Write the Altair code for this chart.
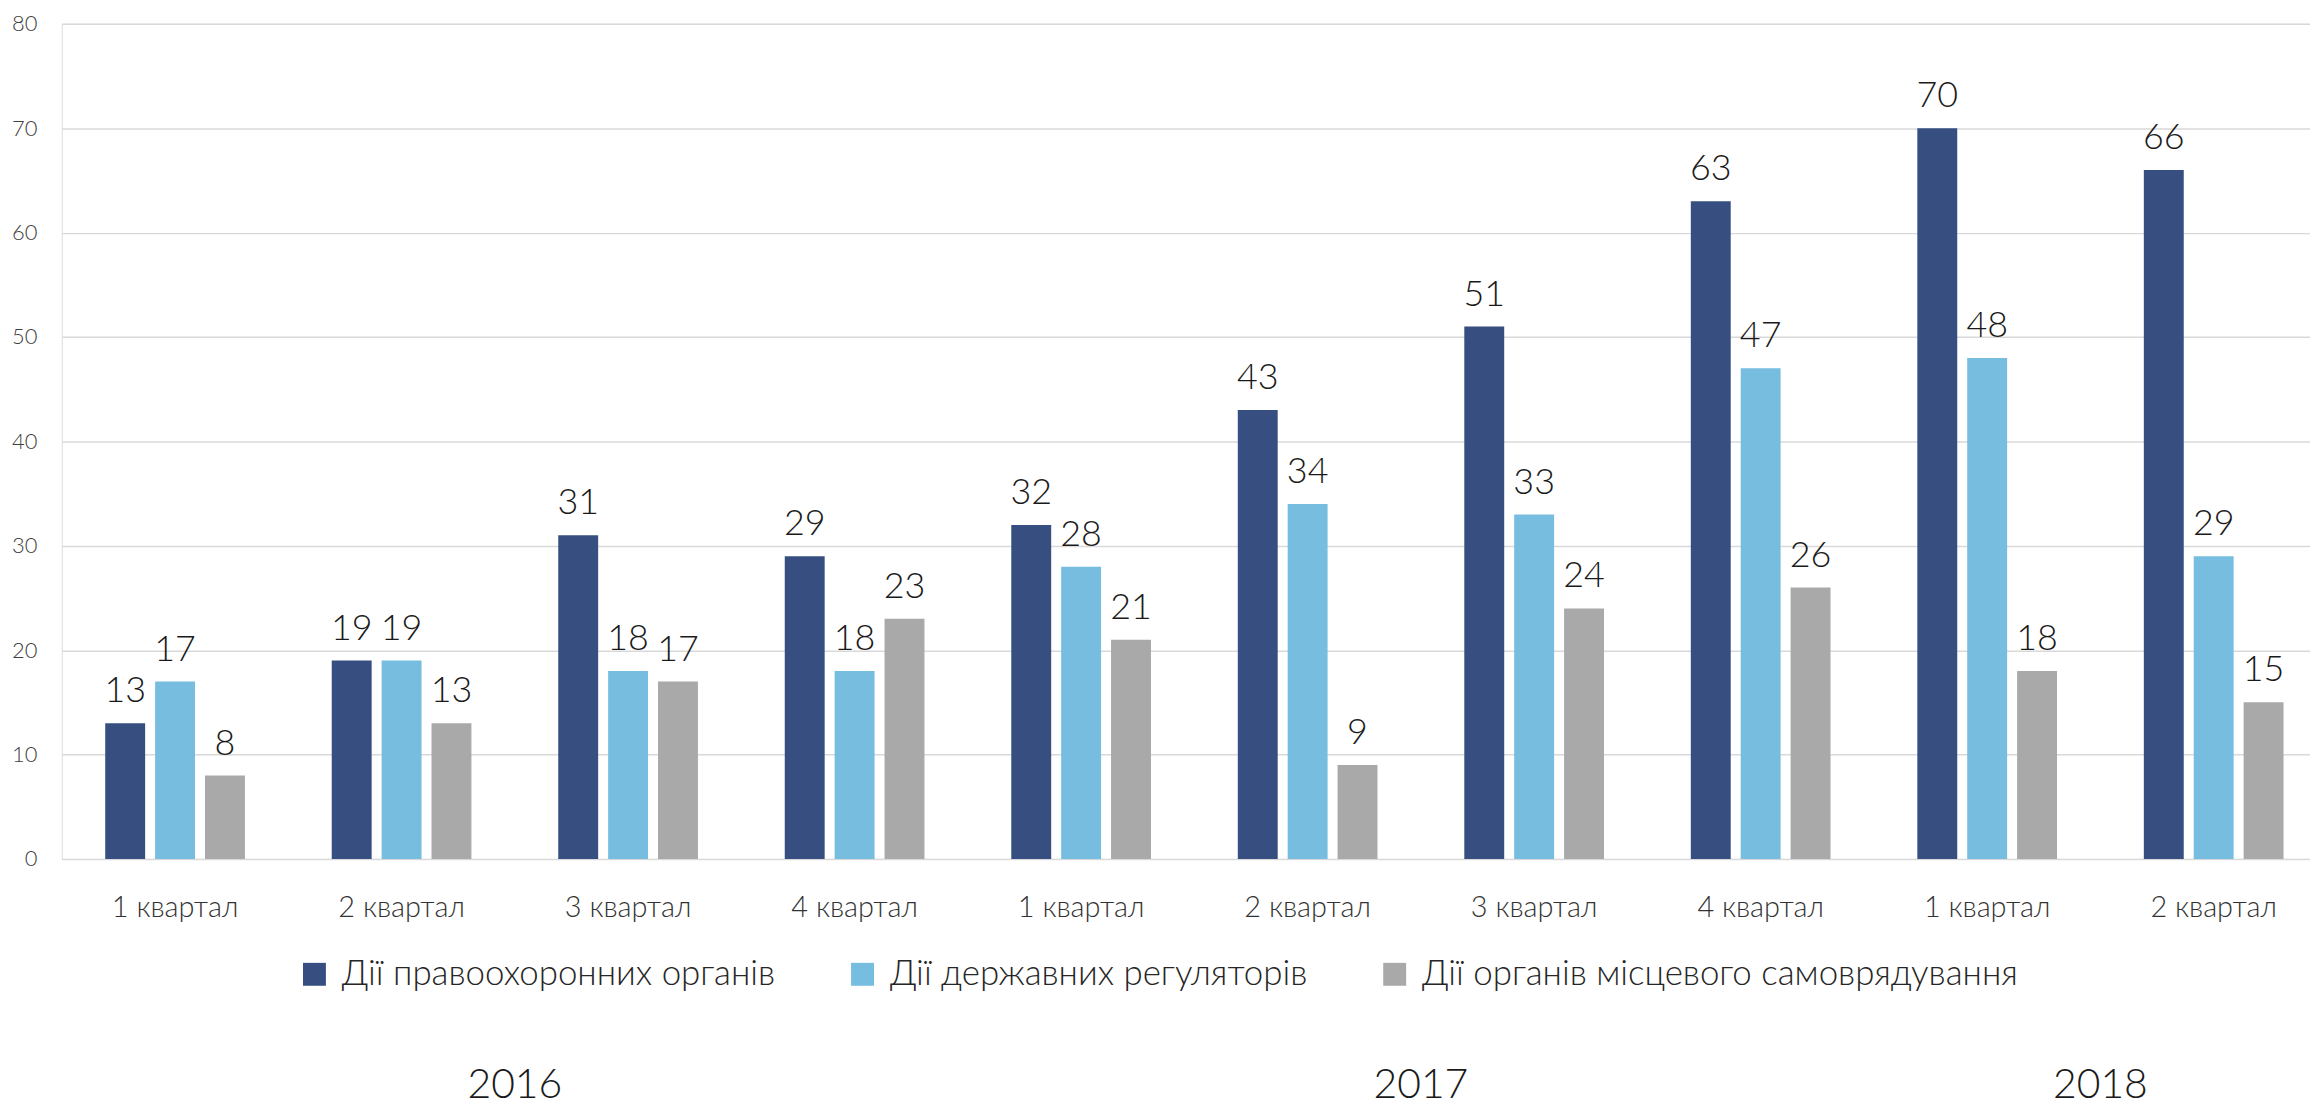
import altair as alt
import pandas as pd

# ---- data ----
quarter_labels = ["1 квартал", "2 квартал", "3 квартал", "4 квартал",
                  "1 квартал", "2 квартал", "3 квартал", "4 квартал",
                  "1 квартал", "2 квартал"]
quarter_years = ["2016", "2016", "2016", "2016",
                 "2017", "2017", "2017", "2017",
                 "2018", "2018"]
series_names = ["Дії правоохоронних органів",
                "Дії державних регуляторів",
                "Дії органів місцевого самоврядування"]
law_enforcement = [13, 19, 31, 29, 32, 43, 51, 63, 70, 66]
regulators = [17, 19, 18, 18, 28, 34, 33, 47, 48, 29]
local_gov = [8, 13, 17, 23, 21, 9, 24, 26, 18, 15]
years = ["2016", "2017", "2018"]
colors = ["#374F80", "#76BDE0", "#A9A9A9"]

FONT = "Lato"

keys = [f"{y}|{q}" for y, q in zip(quarter_years, quarter_labels)]
rows = []
for vals, name in zip([law_enforcement, regulators, local_gov], series_names):
    for k, v in zip(keys, vals):
        rows.append({"key": k, "series": name, "value": v})
df = pd.DataFrame(rows)

# year label anchored at the boundary in the middle of each year's quarters
year_rows = []
for y in years:
    idx = [i for i, qy in enumerate(quarter_years) if qy == y]
    mid = idx[0] + len(idx) // 2 - 1
    year_rows.append({"key": keys[mid], "year": y})
year_df = pd.DataFrame(year_rows)

x_enc = alt.X("key:N", sort=keys,
              scale=alt.Scale(paddingInner=0, paddingOuter=0, range=[0, 2273]),
              axis=alt.Axis(title=None, labelExpr="split(datum.value, '|')[1]",
                            labelAngle=0, labelFontSize=29, labelFont=FONT,
                            labelFontWeight=300, labelColor="#333333",
                            labelBaseline="alphabetic", labelPadding=58,
                            ticks=False, tickSize=0, domain=False, grid=False))
xoff_enc = alt.XOffset("series:N", sort=series_names,
                       scale=alt.Scale(paddingInner=0.2, paddingOuter=0.87))

bars = alt.Chart(df).mark_bar().encode(
    x=x_enc,
    xOffset=xoff_enc,
    y=alt.Y("value:Q",
            scale=alt.Scale(domain=[0, 80], nice=False),
            axis=alt.Axis(title=None, values=list(range(0, 81, 10)),
                          labelFontSize=22, labelFont=FONT, labelFontWeight=300,
                          labelColor="#404040", labelPadding=25,
                          ticks=False, tickSize=0, domain=False,
                          gridColor="#D9D9D9", gridWidth=1.5)),
    color=alt.Color("series:N", sort=series_names,
                    scale=alt.Scale(domain=series_names, range=colors),
                    legend=alt.Legend(title=None, orient="none",
                                      direction="horizontal", columns=3,
                                      legendX=236, legendY=936, padding=0,
                                      symbolType="square", symbolSize=529,
                                      symbolStrokeWidth=0, labelOffset=10,
                                      labelFontSize=35, labelFont=FONT,
                                      labelFontWeight=300, labelColor="#262626",
                                      columnPadding=70, labelLimit=1000)),
)

labels = alt.Chart(df).mark_text(
    baseline="alphabetic", dy=-21, fontSize=36, font=FONT, fontWeight=300,
    color="#1a1a1a"
).encode(
    x=alt.X("key:N", sort=keys),
    xOffset=alt.XOffset("series:N", sort=series_names),
    y=alt.Y("value:Q"),
    text=alt.Text("value:Q"),
)

year_text = alt.Chart(year_df).mark_text(
    baseline="alphabetic", fontSize=41, font=FONT, fontWeight=300,
    color="#1a1a1a"
).encode(
    x=alt.X("key:N", sort=keys, bandPosition=1),
    y=alt.value(1078),
    text="year:N",
)

chart = alt.layer(bars, labels, year_text).properties(
    width=2256, height=838,
    autosize=alt.AutoSizeParams(type="none"),
    padding={"left": 54, "top": 14, "right": 0, "bottom": 248},
).configure_view(stroke=None).configure(background="white")

chart.save("out.html", embed_options={"renderer": "svg", "actions": False})
